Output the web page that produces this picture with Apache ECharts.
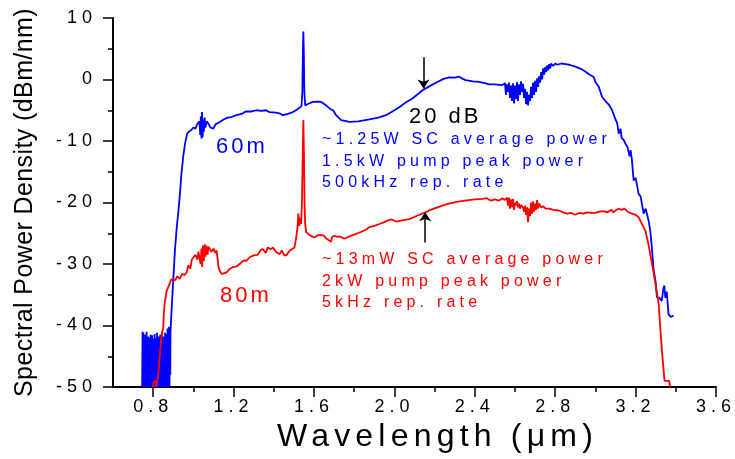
<!DOCTYPE html>
<html><head><meta charset="utf-8">
<script src="https://cdn.jsdelivr.net/npm/echarts@6/dist/echarts.min.js"></script>
<style>html,body{margin:0;padding:0;background:#fff}#c{width:735px;height:459px}</style>
</head><body><div id="c"></div>
<script>
// ---- data ----
var blue60m = [
[0.745,-50],[0.747,-41],[0.749,-50],[0.751,-41.2],[0.753,-50],[0.755,-42.5],[0.757,-50],[0.759,-41.5],[0.761,-50],[0.763,-43],
[0.765,-50],[0.767,-41],[0.769,-50],[0.771,-42],[0.773,-50],[0.775,-41.8],[0.777,-50],[0.779,-43.2],[0.781,-50],[0.783,-42],
[0.785,-50],[0.787,-41.5],[0.789,-50],[0.791,-42.8],[0.793,-50],[0.795,-41.6],[0.797,-50],[0.799,-43],[0.801,-50],[0.803,-42.2],
[0.805,-50],[0.807,-41.4],[0.809,-50],[0.811,-43.5],[0.813,-50],[0.815,-42],[0.817,-50],[0.819,-41.2],[0.821,-50],[0.823,-42.6],
[0.825,-50],[0.827,-41.8],[0.829,-50],[0.831,-43],[0.833,-50],[0.835,-41.5],[0.837,-50],[0.839,-42.4],[0.841,-50],[0.843,-41],
[0.845,-50],[0.847,-43.3],[0.849,-50],[0.851,-41.8],[0.853,-50],[0.855,-42.2],[0.857,-50],[0.859,-41.2],[0.861,-50],[0.863,-42.8],
[0.865,-50],[0.867,-41.4],[0.869,-50],[0.871,-40.5],[0.873,-50],[0.875,-41],[0.877,-50],[0.879,-40.2],[0.881,-50],[0.883,-41.5],
[0.885,-48],[0.886,-41],[0.893,-36.5],[0.9,-32.5],[0.908,-27.8],[0.916,-24.5],[0.925,-21.5],[0.932,-19],[0.94,-15.5],[0.949,-12.6],
[0.958,-10.5],[0.969,-8.8],[0.98,-8.4],[0.99,-8.2],[1.0,-7.8],[1.01,-8],[1.02,-7.2],[1.03,-6.8],[1.034,-9],[1.037,-6],
[1.04,-9.6],[1.043,-5.3],[1.046,-9.4],[1.049,-6.5],[1.052,-8.5],[1.056,-6.2],[1.06,-7.8],[1.066,-6.8],[1.075,-7.2],[1.085,-7.8],
[1.098,-8],[1.11,-7.3],[1.131,-6.9],[1.15,-6.5],[1.17,-6.2],[1.19,-6.1],[1.214,-5.8],[1.24,-5.6],[1.26,-5.2],[1.29,-5.2],
[1.313,-5.0],[1.34,-5.1],[1.36,-5.0],[1.379,-5.3],[1.41,-5.4],[1.429,-5.5],[1.445,-5.8],[1.47,-5.6],[1.495,-5.3],[1.51,-5.0],
[1.528,-4.6],[1.538,-4.3],[1.542,-2],[1.545,5],[1.547,7.8],[1.549,5],[1.552,-2],[1.556,-4.2],[1.561,-4.2],[1.575,-3.9],
[1.594,-3.65],[1.615,-3.6],[1.636,-3.65],[1.66,-4.2],[1.685,-4.9],[1.69,-4.6],[1.695,-5.0],[1.71,-5.8],[1.735,-6.6],[1.776,-6.9],
[1.82,-6.8],[1.875,-6.5],[1.92,-6.2],[1.958,-5.8],[1.99,-5.2],[2.024,-4.5],[2.058,-3.7],[2.09,-3.1],[2.14,-1.75],[2.18,-1.0],
[2.214,-0.4],[2.245,0.1],[2.272,0.33],[2.3,0.3],[2.322,0.45],[2.34,0.1],[2.355,-0.1],[2.39,-0.3],[2.421,-0.4],[2.45,-0.6],
[2.471,-0.8],[2.5,-0.8],[2.537,-0.9],[2.545,-1.2],[2.55,-0.6],[2.555,-2.5],[2.56,-0.8],[2.565,-2],[2.57,-0.5],[2.575,-3],
[2.58,-1],[2.585,-3.5],[2.59,-0.6],[2.595,-3.9],[2.6,-1],[2.605,-3.2],[2.61,-0.4],[2.615,-3.5],[2.62,-0.8],[2.625,-2.5],
[2.63,-0.3],[2.635,-2],[2.64,-0.7],[2.645,-3],[2.65,-1.5],[2.655,-4],[2.66,-2],[2.665,-4.2],[2.67,-2.5],[2.675,-3.5],
[2.68,-1.2],[2.685,-3],[2.69,-0.5],[2.695,-2.5],[2.7,-0.2],[2.705,-2],[2.71,0.2],[2.715,-1.2],[2.72,0.5],[2.725,-0.5],
[2.73,1.2],[2.735,0],[2.74,1.8],[2.745,0.8],[2.75,2],[2.755,1.2],[2.76,2.3],[2.765,1.5],[2.77,2.5],[2.775,1.8],
[2.78,2.6],[2.79,2.2],[2.8,2.6],[2.81,2.4],[2.83,2.6],[2.852,2.5],[2.87,2.4],[2.9,2.1],[2.93,1.7],[2.951,1.25],
[2.97,0.8],[2.992,0.4],[3.0,-0.4],[3.017,-1.2],[3.033,-2.8],[3.05,-3.5],[3.07,-4.2],[3.083,-5.0],[3.1,-6.5],[3.108,-7],
[3.116,-8.8],[3.125,-8],[3.13,-9.5],[3.14,-9.8],[3.149,-10.4],[3.16,-11],[3.17,-12.5],[3.175,-11.5],[3.182,-13.2],[3.19,-16.4],
[3.2,-16],[3.215,-18.6],[3.225,-19],[3.24,-21.8],[3.25,-21],[3.265,-23],[3.273,-24.6],[3.28,-27],[3.29,-31],[3.3,-33],
[3.306,-35.4],[3.318,-35.5],[3.33,-36],[3.338,-34],[3.343,-33.5],[3.348,-35.5],[3.355,-34.5],[3.364,-38.2],[3.375,-38.6],[3.389,-38.4]
];
var red80m = [
[0.8,-50],[0.802,-49.2],[0.812,-49],[0.815,-50],[0.822,-50],[0.825,-48],[0.83,-46],[0.833,-44.7],[0.838,-43],[0.842,-41.5],
[0.85,-40.3],[0.853,-38],[0.858,-36],[0.862,-35.5],[0.866,-34.5],[0.872,-34.5],[0.878,-33.5],[0.883,-33.3],[0.89,-32.5],[0.899,-32.2],
[0.91,-32.6],[0.92,-32],[0.932,-32.4],[0.945,-31.6],[0.955,-31.8],[0.966,-31.4],[0.975,-30.2],[0.985,-30.8],[0.992,-29.3],[0.999,-29.5],
[1.01,-28.5],[1.02,-29.3],[1.025,-28],[1.032,-27.8],[1.036,-30],[1.04,-27.5],[1.044,-30.5],[1.048,-27],[1.052,-29.5],[1.056,-26.8],
[1.06,-28.8],[1.065,-27],[1.07,-28.5],[1.075,-27.2],[1.081,-27.3],[1.09,-28],[1.1,-27.5],[1.108,-28.2],[1.115,-27.8],[1.12,-29],
[1.125,-30.5],[1.131,-31.1],[1.14,-31.6],[1.148,-31.6],[1.164,-31.4],[1.18,-30.8],[1.197,-30.5],[1.215,-30.4],[1.23,-30],[1.25,-29.4],
[1.264,-29.5],[1.28,-28.9],[1.3,-28.6],[1.32,-28.5],[1.335,-27.7],[1.346,-27.6],[1.36,-28.2],[1.37,-27.3],[1.385,-27.6],[1.396,-27.3],
[1.41,-28],[1.429,-28.4],[1.44,-27.8],[1.452,-28.6],[1.462,-28.6],[1.48,-27.8],[1.503,-27.3],[1.51,-26],[1.518,-24],[1.522,-21.8],
[1.527,-23.8],[1.532,-22.5],[1.536,-23.5],[1.54,-20],[1.544,-12],[1.547,-6.6],[1.55,-12],[1.553,-20],[1.556,-23.5],[1.561,-24.8],
[1.578,-25.3],[1.602,-25.7],[1.62,-25.3],[1.636,-25.3],[1.65,-25.4],[1.66,-25.8],[1.685,-26.4],[1.69,-25.6],[1.702,-25.4],[1.715,-25.6],
[1.727,-25.5],[1.751,-25.9],[1.77,-25.6],[1.793,-25.3],[1.834,-24.8],[1.86,-24.4],[1.875,-24],[1.9,-23.8],[1.925,-23.5],[1.95,-23.2],
[1.975,-22.8],[1.99,-22.8],[2.008,-23.1],[2.04,-22.9],[2.074,-22.7],[2.11,-22.2],[2.148,-21.7],[2.18,-21.2],[2.214,-20.8],[2.25,-20.4],
[2.272,-20.2],[2.31,-19.9],[2.35,-19.7],[2.4,-19.5],[2.438,-19.4],[2.46,-19.3],[2.48,-19.7],[2.5,-19.5],[2.52,-19.7],[2.537,-19.3],
[2.55,-19.6],[2.56,-19.2],[2.565,-20.5],[2.57,-19.2],[2.575,-21],[2.58,-19.5],[2.585,-20.8],[2.59,-19.4],[2.595,-21.2],[2.6,-20],
[2.605,-20.5],[2.61,-19.8],[2.615,-20.8],[2.62,-20.2],[2.625,-21],[2.63,-20.4],[2.64,-20.8],[2.645,-21.5],[2.65,-20.5],[2.655,-22],
[2.66,-20.8],[2.665,-23.2],[2.67,-21],[2.675,-22.2],[2.68,-20],[2.685,-21.8],[2.69,-19.8],[2.695,-21.5],[2.7,-20.2],[2.705,-21.2],
[2.71,-19.6],[2.715,-21],[2.72,-20.2],[2.73,-20.8],[2.74,-20.6],[2.752,-21],[2.77,-21],[2.79,-21.2],[2.818,-21.3],[2.84,-21.6],
[2.86,-21.8],[2.88,-21.7],[2.9,-22],[2.92,-21.7],[2.94,-21.8],[2.96,-21.6],[2.98,-21.7],[3.0,-21.7],[3.02,-21.5],[3.04,-21.4],
[3.06,-21.6],[3.08,-21.2],[3.09,-21.6],[3.1,-21.3],[3.115,-21.0],[3.132,-21.2],[3.145,-21.0],[3.16,-21.5],[3.182,-21.8],[3.2,-22],
[3.215,-22.4],[3.23,-23.4],[3.249,-24.6],[3.265,-27],[3.282,-30],[3.3,-33.5],[3.315,-36.5],[3.322,-40],[3.331,-44.1],[3.34,-47.5],
[3.344,-49],[3.367,-49],[3.372,-50]
];
var xMajorTicks = [0.8, 1.2, 1.6, 2.0, 2.4, 2.8, 3.2, 3.6];
var xMinorTicks = [1.0, 1.4, 1.8, 2.2, 2.6, 3.0, 3.4];
var blueArrow = [[2.145, 3.6], [2.145, -1.45]];
var redArrow = [[2.153, -26.5], [2.153, -21.6]];
var blueNotes = ['~1.25W SC average power', '1.5kW pump peak power', '500kHz rep. rate'];
var redNotes = ['~13mW SC average power', '2kW pump peak power', '5kHz rep. rate'];

// ---- letter spacing by font size (the reference text is widely tracked) ----
(function () {
  var P = CanvasRenderingContext2D.prototype;
  var spacing = {16: 4.2, 18: 5, 22: 3, 25: 0.4, 32: 5.2};
  ['fillText', 'strokeText'].forEach(function (name) {
    var orig = P[name];
    P[name] = function (t, x, y, w) {
      var m = /(\d+(?:\.\d+)?)px/.exec(this.font);
      var s = (m && spacing[+m[1]]) || 0;
      var args = w === undefined ? [t, x, y] : [t, x, y, w];
      if ('letterSpacing' in this) {
        this.letterSpacing = s + 'px';
        var r = orig.apply(this, args);
        this.letterSpacing = '0px';
        return r;
      }
      return orig.apply(this, args);
    };
  });
})();

var FONT = 'Liberation Sans';
var chart = echarts.init(document.getElementById('c'), null, {renderer: 'canvas'});

function notes(lines, color, x, y0, dy) {
  return lines.map(function (t, i) {
    return {type: 'text', x: x, y: y0 + i * dy, silent: true,
      style: {text: t, fill: color, fontSize: 16, fontFamily: FONT, align: 'left', verticalAlign: 'middle'}};
  });
}

var arrowLine = function (pts) {
  return {
    silent: true, symbol: ['none', 'arrow'], symbolSize: 9,
    label: {show: false},
    lineStyle: {color: '#000', width: 1.5, type: 'solid'},
    itemStyle: {color: '#000'},
    data: [[{coord: pts[0]}, {coord: pts[1]}]]
  };
};

chart.setOption({
  animation: false,
  backgroundColor: '#fff',
  grid: {left: 113, right: 19, top: 18, bottom: 72, containLabel: false},
  xAxis: [{
    type: 'value', min: 0.6, max: 3.6, interval: 0.2,
    name: 'Wavelength (\u03bcm)', nameLocation: 'middle', nameGap: 31,
    nameTextStyle: {fontSize: 32, fontFamily: FONT, color: '#000', padding: [0, 0, 0, 46]},
    axisLine: {show: true, onZero: false, lineStyle: {color: '#000', width: 2}},
    axisTick: {show: true, length: 10, customValues: xMajorTicks, lineStyle: {color: '#000', width: 1.5}},
    axisLabel: {show: true, customValues: xMajorTicks, margin: 11, fontSize: 18, fontFamily: FONT, color: '#000',
      formatter: function (v) { return (+v).toFixed(1); }},
    splitLine: {show: false}
  }, {
    type: 'value', min: 0.6, max: 3.6, interval: 0.2, position: 'bottom',
    axisLine: {show: false, onZero: false},
    axisTick: {show: true, length: 5, customValues: xMinorTicks, lineStyle: {color: '#000', width: 1.5}},
    axisLabel: {show: false, customValues: xMinorTicks},
    splitLine: {show: false}
  }],
  yAxis: {
    type: 'value', min: -50, max: 10, interval: 10,
    name: 'Spectral Power Density (dBm/nm)', nameLocation: 'middle', nameGap: 75,
    nameTextStyle: {fontSize: 25, fontFamily: FONT, color: '#000'},
    axisLine: {show: true, onZero: false, lineStyle: {color: '#000', width: 2}},
    axisTick: {show: true, length: 10, lineStyle: {color: '#000', width: 1.5}},
    minorTick: {show: true, splitNumber: 2, length: 5, lineStyle: {color: '#000', width: 1.5}},
    axisLabel: {margin: 16, fontSize: 18, fontFamily: FONT, color: '#000'},
    splitLine: {show: false}, minorSplitLine: {show: false}
  },
  series: [{
    name: '60m', type: 'line', data: blue60m, showSymbol: false, symbol: 'none',
    lineStyle: {color: '#0000ff', width: 1.8}, itemStyle: {color: '#0000ff'},
    markLine: arrowLine(blueArrow)
  }, {
    name: '80m', type: 'line', data: red80m, showSymbol: false, symbol: 'none',
    lineStyle: {color: '#ff0000', width: 1.8}, itemStyle: {color: '#ff0000'},
    markLine: arrowLine(redArrow)
  }],
  graphic: [
    {type: 'text', x: 216, y: 147, silent: true, style: {text: '60m', fill: '#0000ff', fontSize: 22, fontFamily: FONT, verticalAlign: 'middle'}},
    {type: 'text', x: 220, y: 296, silent: true, style: {text: '80m', fill: '#ff0000', fontSize: 22, fontFamily: FONT, verticalAlign: 'middle'}},
    {type: 'text', x: 409, y: 117, silent: true, style: {text: '20 dB', fill: '#000', fontSize: 22, fontFamily: FONT, verticalAlign: 'middle'}}
  ].concat(notes(blueNotes, '#0000ff', 322, 139.5, 21.6)).concat(notes(redNotes, '#ff0000', 322, 259.5, 21.6))
});
</script></body></html>
